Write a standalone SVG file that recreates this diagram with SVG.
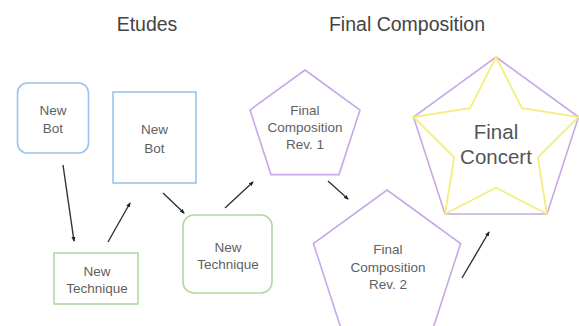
<svg xmlns="http://www.w3.org/2000/svg" width="579" height="326" viewBox="0 0 579 326">
<defs>
<style>
text{font-family:"Liberation Sans",Arial,Helvetica,sans-serif;text-anchor:middle;fill:#5f5f5f}
.title{font-size:19.5px;fill:#444}
.lbl{font-size:13.5px}
.big{font-size:20.5px;fill:#555}
.blue{fill:#fff;stroke:#9cc4ea;stroke-width:1.6}
.green{fill:#fff;stroke:#b3d7a0;stroke-width:1.6}
.purple{fill:#fff;stroke:#c6a9e6;stroke-width:1.6}
.star{fill:none;stroke:#f3ee7c;stroke-width:1.8}
.edge{stroke:#333;stroke-width:1.4;fill:none;marker-end:url(#ah)}
</style>
<marker id="ah" viewBox="0 0 10 10" refX="8" refY="5" markerWidth="5" markerHeight="5" orient="auto" markerUnits="userSpaceOnUse">
<path d="M0,1 L10,5 L0,9 Z" fill="#222"/>
</marker>
</defs>
<rect width="579" height="326" fill="#fff"/>
<g id="titles">
<text class="title" x="147" y="31">Etudes</text>
<text class="title" x="407" y="31">Final Composition</text>
</g>
<g id="connectors">
<line class="edge" x1="63" y1="165" x2="74" y2="241"/>
<line class="edge" x1="108" y1="242" x2="130" y2="203"/>
<line class="edge" x1="163" y1="193" x2="184" y2="213"/>
<line class="edge" x1="225" y1="208" x2="253" y2="182"/>
<line class="edge" x1="328" y1="181" x2="348" y2="199"/>
<line class="edge" x1="462" y1="278" x2="489" y2="232"/>
</g>
<g id="node-newbot-1">
<rect class="blue" x="17.5" y="83" width="71" height="70" rx="10"/>
<text class="lbl" x="53" y="115">New</text>
<text class="lbl" x="53" y="133">Bot</text>
</g>
<g id="node-newbot-2">
<rect class="blue" x="113" y="92" width="83" height="91"/>
<text class="lbl" x="154.5" y="134">New</text>
<text class="lbl" x="154.5" y="153">Bot</text>
</g>
<g id="node-newtech-1">
<rect class="green" x="54" y="253" width="84" height="51"/>
<text class="lbl" x="97" y="276">New</text>
<text class="lbl" x="97" y="293">Technique</text>
</g>
<g id="node-newtech-2">
<rect class="green" x="183" y="215" width="89" height="78" rx="11"/>
<text class="lbl" x="228" y="252">New</text>
<text class="lbl" x="228" y="269">Technique</text>
</g>
<g id="node-finalcomp-1">
<polygon class="purple" points="305,70 360,110 339,174.6 271,174.6 250,110"/>
<text class="lbl" x="305" y="115">Final</text>
<text class="lbl" x="305" y="132">Composition</text>
<text class="lbl" x="305" y="149">Rev. 1</text>
</g>
<g id="node-finalcomp-2">
<polygon class="purple" points="387,190 460.6,243.5 432.5,330 341.5,330 313.4,243.5"/>
<text class="lbl" x="388" y="254">Final</text>
<text class="lbl" x="388" y="272">Composition</text>
<text class="lbl" x="388" y="289">Rev. 2</text>
</g>
<g id="node-finalconcert">
<polygon class="purple" points="496,57 578.5,117 547,214 445,214 413.5,117"/>
<path class="star" d="M496,57 L521.9,108.2 L578.5,117 L537.8,157.4 L547,214 L496,187.8 L445,214 L454.2,157.4 L413.5,117 L470.1,108.2 Z"/>
<text class="big" x="496" y="139">Final</text>
<text class="big" x="496" y="164">Concert</text>
</g>
</svg>
